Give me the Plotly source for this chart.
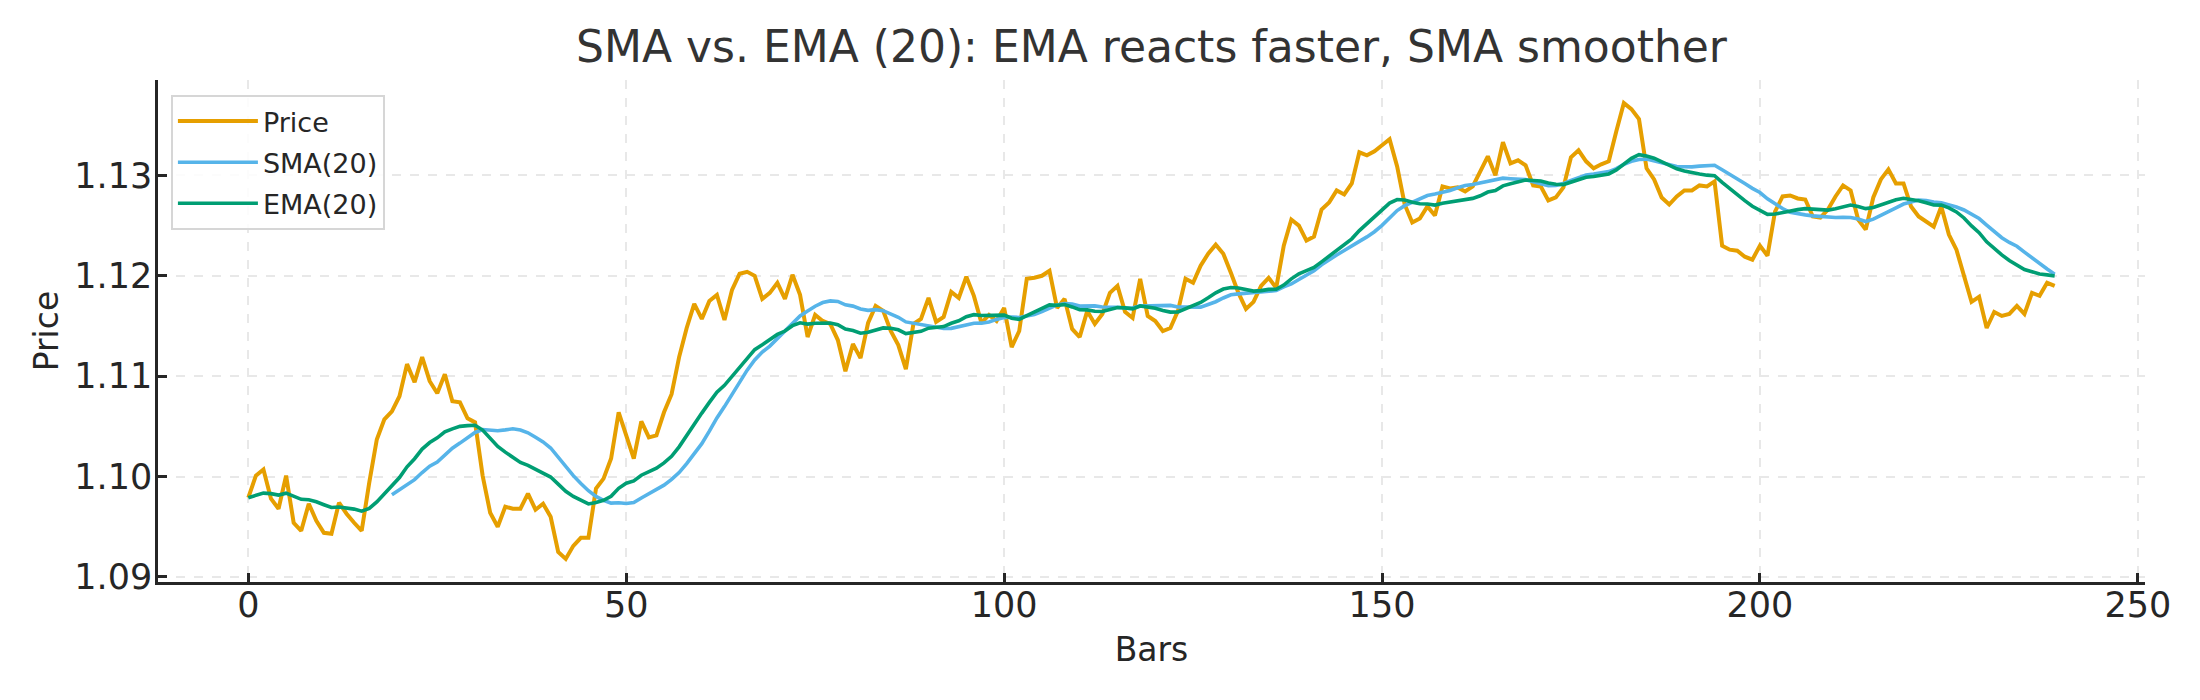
import numpy as np
import pandas as pd
import plotly.graph_objects as go

# Price per bar
price = [
    1.0979, 1.1001, 1.1007, 1.0978, 1.0968, 1.1001, 1.0954, 1.0946, 1.0973, 1.0956,
    1.0944, 1.0943, 1.0974, 1.0963, 1.0954, 1.0946, 1.0994, 1.1037, 1.1057, 1.1065,
    1.1080, 1.1112, 1.1094, 1.1119, 1.1095, 1.1083, 1.1102, 1.1075, 1.1074, 1.1058,
    1.1054, 1.1001, 1.0964, 1.0950, 1.0970, 1.0968, 1.0968, 1.0983, 1.0967, 1.0973,
    1.0960, 1.0925, 1.0918, 1.0931, 1.0939, 1.0939, 1.0988, 1.0998, 1.1018, 1.1064,
    1.1041, 1.1018, 1.1055, 1.1039, 1.1041, 1.1064, 1.1082, 1.1119, 1.1148, 1.1172,
    1.1157, 1.1175, 1.1181, 1.1156, 1.1186, 1.1202, 1.1204, 1.1200, 1.1177, 1.1183,
    1.1193, 1.1177, 1.1201, 1.1181, 1.1139, 1.1161, 1.1155, 1.1152, 1.1136, 1.1105,
    1.1132, 1.1118, 1.1153, 1.1170, 1.1165, 1.1145, 1.1131, 1.1107, 1.1152, 1.1157,
    1.1178, 1.1154, 1.1159, 1.1184, 1.1178, 1.1199, 1.1180, 1.1153, 1.1161, 1.1155,
    1.1168, 1.1129, 1.1145, 1.1197, 1.1198, 1.1200, 1.1205, 1.1168, 1.1177, 1.1147,
    1.1139, 1.1165, 1.1152, 1.1162, 1.1183, 1.1190, 1.1164, 1.1158, 1.1197, 1.1160,
    1.1155, 1.1145, 1.1148, 1.1165, 1.1197, 1.1193, 1.1210, 1.1222, 1.1231, 1.1222,
    1.1203, 1.1183, 1.1167, 1.1174, 1.1190, 1.1198, 1.1188, 1.1230, 1.1256, 1.1250,
    1.1235, 1.1239, 1.1266, 1.1273, 1.1285, 1.1281, 1.1292, 1.1323, 1.1320, 1.1324,
    1.1330, 1.1336, 1.1309, 1.1271, 1.1253, 1.1257, 1.1269, 1.1260, 1.1289, 1.1287,
    1.1288, 1.1284, 1.1289, 1.1304, 1.1319, 1.1300, 1.1333, 1.1312, 1.1315, 1.1310,
    1.1290, 1.1289, 1.1275, 1.1278, 1.1288, 1.1318, 1.1325, 1.1314, 1.1307, 1.1311,
    1.1314, 1.1344, 1.1372, 1.1366, 1.1356, 1.1307, 1.1296, 1.1278, 1.1271, 1.1279,
    1.1285, 1.1285, 1.1290, 1.1289, 1.1294, 1.1230, 1.1226, 1.1225, 1.1219, 1.1216,
    1.1230, 1.1220, 1.1264, 1.1279, 1.1280, 1.1277, 1.1276, 1.1259, 1.1258, 1.1266,
    1.1279, 1.1290, 1.1285, 1.1256, 1.1246, 1.1278, 1.1296, 1.1306, 1.1292, 1.1292,
    1.1269, 1.1259, 1.1254, 1.1249, 1.1269, 1.1241, 1.1226, 1.1200, 1.1174, 1.1179,
    1.1148, 1.1164, 1.1160, 1.1162, 1.1170, 1.1162, 1.1183, 1.1180, 1.1193, 1.1190,
]
bars = list(range(len(price)))
window = 20

series = pd.Series(price)
sma = series.rolling(window).mean().tolist()
ema = series.ewm(span=window, adjust=False).mean().tolist()

x_ticks = [0, 50, 100, 150, 200, 250]
y_ticks = [1.09, 1.10, 1.11, 1.12, 1.13]

FONT = "DejaVu Sans"
INK = "#262626"

fig = go.Figure()
fig.add_trace(go.Scatter(x=bars, y=price, mode="lines", name="Price", legendgroup="p",
                         line=dict(color="#E69F00", width=4)))
fig.add_trace(go.Scatter(x=bars, y=sma, mode="lines", name="SMA(20)", legendgroup="s",
                         line=dict(color="#56B4E9", width=3.6)))
fig.add_trace(go.Scatter(x=bars, y=ema, mode="lines", name="EMA(20)", legendgroup="e",
                         line=dict(color="#009E73", width=3.6)))

axis_common = dict(
    showline=True, linecolor=INK, linewidth=2.5, mirror=False,
    ticks="inside", ticklen=9, tickwidth=2.5, tickcolor=INK,
    showgrid=True, gridcolor="#e8e8e8", gridwidth=1.5, griddash="dash",
    zeroline=False, tickfont=dict(family=FONT, size=35, color=INK),
)

W, H = 2192, 692
fig.update_layout(
    width=W, height=H,
    margin=dict(l=150, r=55, t=72, b=118),
    paper_bgcolor="white", plot_bgcolor="white",
    font=dict(family=FONT, color=INK),
    title=dict(text="SMA vs. EMA (20): EMA reacts faster, SMA smoother",
               x=0.5, xref="paper", xanchor="center",
               y=1 - 39 / H, yref="container", yanchor="middle",
               font=dict(family=FONT, size=44, color="#333333")),
    xaxis=dict(range=[-11.95, 250.95], tickvals=x_ticks, ticklabelstandoff=-10,
               title=dict(text="Bars", font=dict(family=FONT, size=33, color=INK), standoff=15),
               **axis_common),
    yaxis=dict(range=[1.0895, 1.1395], tickvals=y_ticks, tickformat=".2f",
               ticklabelstandoff=-4,
               title=dict(text="Price", font=dict(family=FONT, size=33, color=INK), standoff=6),
               **axis_common),
    legend=dict(x=0.0065, y=0.97, xanchor="left", yanchor="top",
                bgcolor="rgba(255,255,255,0.85)", bordercolor="#d6d6d6", borderwidth=2,
                tracegroupgap=3, itemwidth=80,
                font=dict(family=FONT, size=27, color=INK)),
    showlegend=True,
)

fig.write_html("out.html")
